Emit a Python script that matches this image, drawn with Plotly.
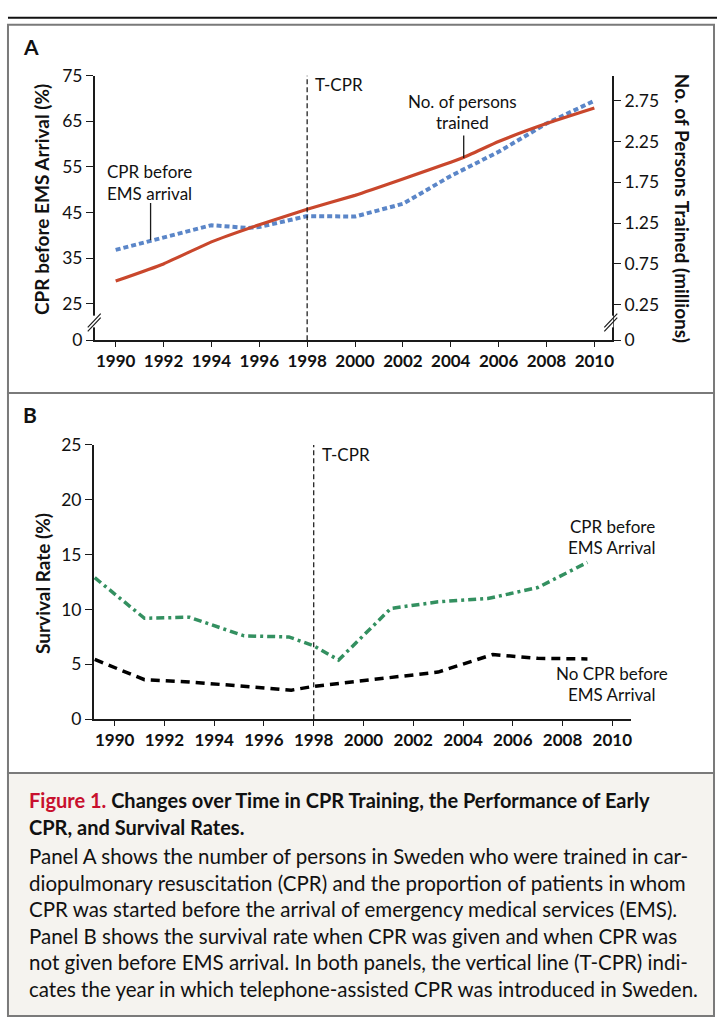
import plotly.graph_objects as go

# ---------------- data ----------------
years_trained = [1990, 1992, 1994, 1996, 1998, 2000, 2002, 2004.5, 2006, 2008, 2010]
persons_trained_millions = [0.54, 0.75, 1.02, 1.23, 1.42, 1.59, 1.79, 2.05, 2.25, 2.47, 2.66]

years_cpr = [1990, 1992, 1994, 1995.5, 1996, 1998, 2000, 2002, 2004, 2006, 2008, 2010]
cpr_before_ems_pct = [36.8, 39.4, 42.2, 41.6, 41.8, 44.2, 44.1, 46.9, 53.0, 58.3, 64.5, 69.5]

years_surv_cpr = [1989.2, 1991.2, 1993, 1995.2, 1997, 1998, 1999, 2001.1, 2003, 2005, 2007, 2009]
survival_cpr = [12.9, 9.2, 9.3, 7.6, 7.5, 6.7, 5.4, 10.1, 10.7, 11.0, 12.0, 14.3]

years_surv_nocpr = [1989.2, 1991.2, 1993, 1995, 1997.1, 1998, 2000, 2003, 2005.2, 2007, 2009]
survival_nocpr = [5.45, 3.6, 3.4, 3.0, 2.65, 3.0, 3.5, 4.3, 5.9, 5.55, 5.5]

x_ticks = [1990, 1992, 1994, 1996, 1998, 2000, 2002, 2004, 2006, 2008, 2010]
a_left_ticks = [17, 25, 35, 45, 55, 65, 75]
a_left_labels = ["0", "25", "35", "45", "55", "65", "75"]
a_right_ticks = [-0.184, 0.25, 0.75, 1.25, 1.75, 2.25, 2.75]
a_right_labels = ["0", "0.25", "0.75", "1.25", "1.75", "2.25", "2.75"]
b_ticks = [0, 5, 10, 15, 20, 25]
tcpr_year = 1998

# ---------------- helpers ----------------
W, H = 719, 1028
FONT = "Lato"
INK = "#111"


def px(x):
    return x / W


def py(y):
    return 1 - y / H


fig = go.Figure()

fig.add_trace(go.Scatter(x=years_cpr, y=cpr_before_ems_pct, mode="lines",
                         line=dict(color="#5b86c8", width=4, dash="5px,3px"),
                         xaxis="x", yaxis="y", showlegend=False))
fig.add_trace(go.Scatter(x=years_trained, y=persons_trained_millions, mode="lines",
                         line=dict(color="#c9472c", width=3.2, shape="spline", smoothing=0.4),
                         xaxis="x", yaxis="y2", showlegend=False))
fig.add_trace(go.Scatter(x=years_surv_cpr, y=survival_cpr, mode="lines",
                         line=dict(color="#339060", width=3.5, dash="8px,4px,3px,4px"),
                         xaxis="x2", yaxis="y3", showlegend=False))
fig.add_trace(go.Scatter(x=years_surv_nocpr, y=survival_nocpr, mode="lines",
                         line=dict(color="#000000", width=3.5, dash="9px,6px"),
                         xaxis="x2", yaxis="y3", showlegend=False))

axis_common = dict(showgrid=False, zeroline=False, showline=True, linecolor="#1a1a1a",
                   linewidth=1.5, ticks="outside", tickwidth=1.3, tickcolor="#1a1a1a")
tick_font = dict(family=FONT, size=17.5, color=INK)
xtick_font = dict(family=FONT, size=17, color=INK, weight="bold")

fig.update_layout(
    width=W, height=H, margin=dict(l=0, r=0, t=0, b=0),
    paper_bgcolor="white", plot_bgcolor="rgba(0,0,0,0)",
    xaxis=dict(domain=[px(95), px(614)], range=[1989.125, 2010.75], anchor="y",
               tickvals=x_ticks, tickfont=xtick_font, ticklen=5, **axis_common),
    yaxis=dict(domain=[py(336), py(66)], range=[17, 75], anchor="x",
               tickvals=a_left_ticks, ticktext=a_left_labels, tickfont=tick_font,
               ticklen=7, **axis_common),
    yaxis2=dict(range=[-0.184, 3.057], overlaying="y", side="right", anchor="x",
                tickvals=a_right_ticks, ticktext=a_right_labels, tickfont=tick_font,
                ticklen=7, **axis_common),
    xaxis2=dict(domain=[px(94), px(633)], range=[1989.16, 2010.76], anchor="y3",
                tickvals=x_ticks, tickfont=xtick_font, ticklen=5, **axis_common),
    yaxis3=dict(domain=[py(723), py(443)], range=[0, 25], anchor="x2",
                tickvals=b_ticks, tickfont=tick_font, ticklen=7, **axis_common),
)

shapes = []
# top rule and panel frames
shapes.append(dict(type="line", xref="paper", yref="paper", x0=px(8), x1=1, y0=py(7), y1=py(7),
                   line=dict(color=INK, width=2)))
shapes.append(dict(type="rect", xref="paper", yref="paper", x0=px(8), x1=px(716), y0=py(778), y1=py(1026),
                   fillcolor="#f5f3ef", line=dict(color="#7a7a7a", width=2), layer="below"))
shapes.append(dict(type="rect", xref="paper", yref="paper", x0=px(8), x1=px(716), y0=py(390), y1=py(14),
                   line=dict(color="#7a7a7a", width=2)))
shapes.append(dict(type="rect", xref="paper", yref="paper", x0=px(8), x1=px(716), y0=py(778), y1=py(390),
                   line=dict(color="#7a7a7a", width=2)))
# T-CPR lines
shapes.append(dict(type="line", xref="x", yref="y domain", x0=tcpr_year, x1=tcpr_year, y0=0, y1=1,
                   line=dict(color=INK, width=1.2, dash="5px,3px")))
shapes.append(dict(type="line", xref="x2", yref="y3 domain", x0=tcpr_year, x1=tcpr_year, y0=0, y1=1,
                   line=dict(color=INK, width=1.2, dash="5px,3px")))
# axis breaks (panel A)
for ax in (95, 613):
    shapes.append(dict(type="line", xref="paper", yref="paper", x0=px(ax), x1=px(ax), y0=py(311), y1=py(323),
                       line=dict(color="white", width=4)))
    for off in (0, 4):
        shapes.append(dict(type="line", xref="paper", yref="paper",
                           x0=px(ax - 7), x1=px(ax + 6), y0=py(327 - off), y1=py(313 - off),
                           line=dict(color="#1a1a1a", width=1.2)))
# leader lines
shapes.append(dict(type="line", xref="paper", yref="paper", x0=px(465), x1=px(465), y0=py(127), y1=py(150),
                   line=dict(color="#1a1a1a", width=1.3)))
shapes.append(dict(type="line", xref="paper", yref="paper", x0=px(151), x1=px(151), y0=py(196), y1=py(234),
                   line=dict(color="#1a1a1a", width=1.3)))
fig.update_layout(shapes=shapes)

ann = []


def text(x, y, s, size=17.5, xanchor="center", color=INK, weight="normal", angle=0):
    ann.append(dict(xref="paper", yref="paper", x=px(x), y=py(y), text=s, showarrow=False,
                    xanchor=xanchor, yanchor="middle", align="left", textangle=angle,
                    font=dict(family=FONT, size=size, color=color, weight=weight)))


text(21, 36, "A", size=21, xanchor="left", weight="bold")
text(21, 412, "B", size=21, xanchor="left", weight="bold")
text(314, 75, "T-CPR", size=17, xanchor="left")
text(321, 453, "T-CPR", size=17, xanchor="left")
text(464, 92, "No. of persons", size=17)
text(464, 114, "trained", size=17)
text(150, 164, "CPR before", size=17)
text(150, 186, "EMS arrival", size=17)
text(614, 526, "CPR before", size=17)
text(614, 548, "EMS Arrival", size=17)
text(614, 676, "No CPR before", size=17)
text(614, 698, "EMS Arrival", size=17)

# axis titles
text(41, 192, "CPR before EMS Arrival (%)", size=19, weight="bold", angle=-90)
text(684, 201, "No. of Persons Trained (millions)", size=19, weight="bold", angle=90)
text(42, 584, "Survival Rate (%)", size=19, weight="bold", angle=-90)

# caption
text(27, 805, "<span style='color:#c8102e'>Figure 1.</span> Changes over Time in CPR Training, the Performance of Early",
     size=20, xanchor="left", weight="bold")
text(27, 833, "CPR, and Survival Rates.", size=20, xanchor="left", weight="bold")
body = [
    "Panel A shows the number of persons in Sweden who were trained in car-",
    "diopulmonary resuscitation (CPR) and the proportion of patients in whom",
    "CPR was started before the arrival of emergency medical services (EMS).",
    "Panel B shows the survival rate when CPR was given and when CPR was",
    "not given before EMS arrival. In both panels, the vertical line (T-CPR) indi-",
    "cates the year in which telephone-assisted CPR was introduced in Sweden.",
]
for i, line in enumerate(body):
    text(27, 863 + i * 27, line, size=20.5, xanchor="left")

fig.update_layout(annotations=ann)

fig.write_html("out.html", config={"displayModeBar": False},
               post_script="document.body.style.margin='0';document.body.style.overflow='hidden';")
